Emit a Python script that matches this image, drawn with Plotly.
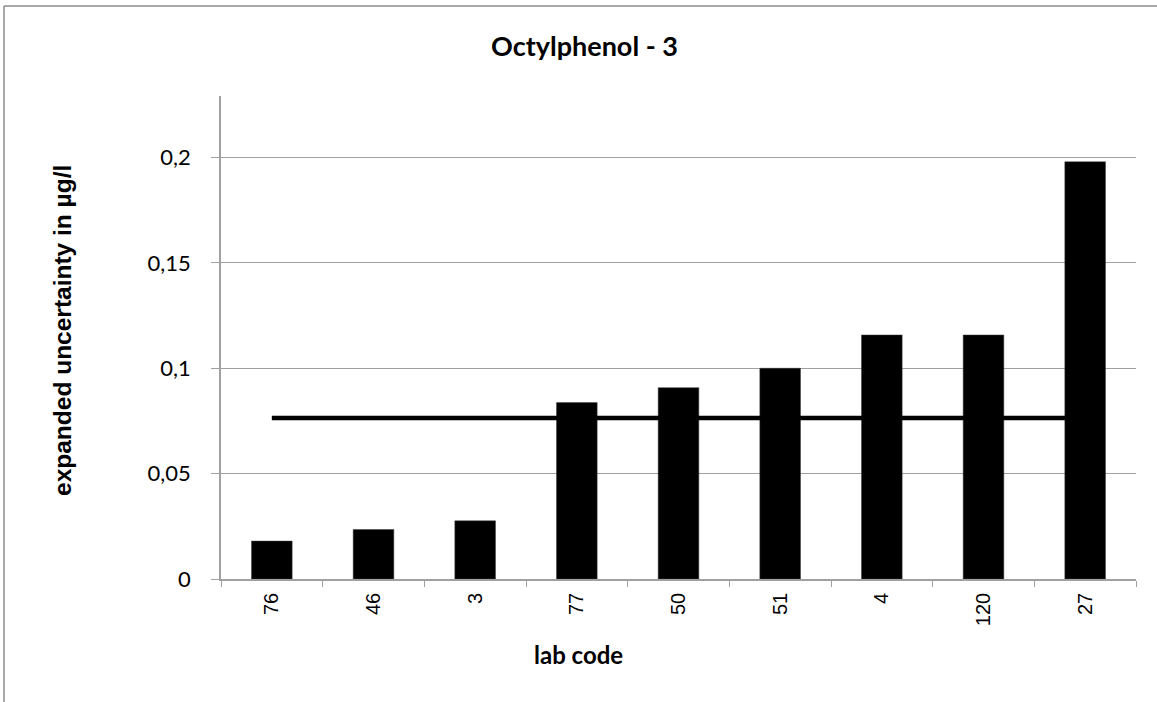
import plotly.graph_objects as go

labs = ["76", "46", "3", "77", "50", "51", "4", "120", "27"]
uncertainty = [0.018, 0.0235, 0.0276, 0.0837, 0.0908, 0.100, 0.1158, 0.1158, 0.198]
reference_level = 0.0764

W, H = 1157, 702
L, R, T, B = 221, 21, 96, 123

fig = go.Figure()
fig.add_trace(go.Bar(
    x=labs, y=uncertainty,
    marker=dict(color="black", line=dict(color="#404040", width=0.5)),
    width=0.4, showlegend=False, hoverinfo="x+y",
))
fig.add_trace(go.Scatter(
    x=[labs[0], labs[-1]], y=[reference_level, reference_level],
    mode="lines", line=dict(color="black", width=4.5),
    showlegend=False,
))

pw = W - L - R
ph = H - T - B
def px(x):
    return (x - L) / pw
def py(y):
    return (H - B - y) / ph

shapes = [
    dict(type="line", xref="paper", yref="paper", x0=px(4), x1=px(1157), y0=py(6), y1=py(6),
         line=dict(color="#8c8c8c", width=1.5)),
    dict(type="line", xref="paper", yref="paper", x0=px(4), x1=px(4), y0=py(6), y1=py(702),
         line=dict(color="#8c8c8c", width=1.5)),
]

annotations = [
    dict(text="<b>Octylphenol - 3</b>", xref="paper", yref="paper", x=px(584), y=py(46),
         xanchor="center", yanchor="middle", showarrow=False,
         font=dict(family="Lato, Open Sans, sans-serif", size=27, color="black")),
    dict(text="<b>lab code</b>", xref="paper", yref="paper", x=px(578), y=py(654),
         xanchor="center", yanchor="middle", showarrow=False,
         font=dict(family="Lato, Open Sans, sans-serif", size=24, color="black")),
    dict(text="<b>expanded uncertainty in µg/l</b>", xref="paper", yref="paper", x=px(62), y=py(331),
         xanchor="center", yanchor="middle", showarrow=False, textangle=-90,
         font=dict(family="Liberation Sans, Arial, sans-serif", size=24.5, color="black")),
]

fig.update_layout(
    width=W, height=H,
    margin=dict(l=L, r=R, t=T, b=B, autoexpand=False),
    paper_bgcolor="white", plot_bgcolor="white",
    separators=", ",
    shapes=shapes,
    annotations=annotations,
    bargap=0.6,
)
fig.update_xaxes(
    type="category",
    tickangle=-90,
    tickfont=dict(family="Liberation Sans, Arial, sans-serif", size=20, color="black"),
    ticks="outside", tickson="boundaries", ticklen=6, tickcolor="#a0a0a0", tickwidth=1,
    ticklabelstandoff=4,
    showline=True, linecolor="#a0a0a0", linewidth=1.5,
    showgrid=False,
    range=[-0.5, len(labs) - 0.5],
)
fig.update_yaxes(
    range=[0, 0.2292], dtick=0.05, tick0=0,
    tickfont=dict(family="Lato, Open Sans, sans-serif", size=22, color="black"),
    ticks="outside", ticklen=8, tickcolor="#a0a0a0", tickwidth=1,
    ticklabelstandoff=16,
    showline=True, linecolor="#a0a0a0", linewidth=1.5,
    showgrid=True, gridcolor="#a0a0a0", gridwidth=1,
    zeroline=False,
)

fig.write_html("out.html", config={"displayModeBar": False},
               post_script="document.body.style.margin='0';")
